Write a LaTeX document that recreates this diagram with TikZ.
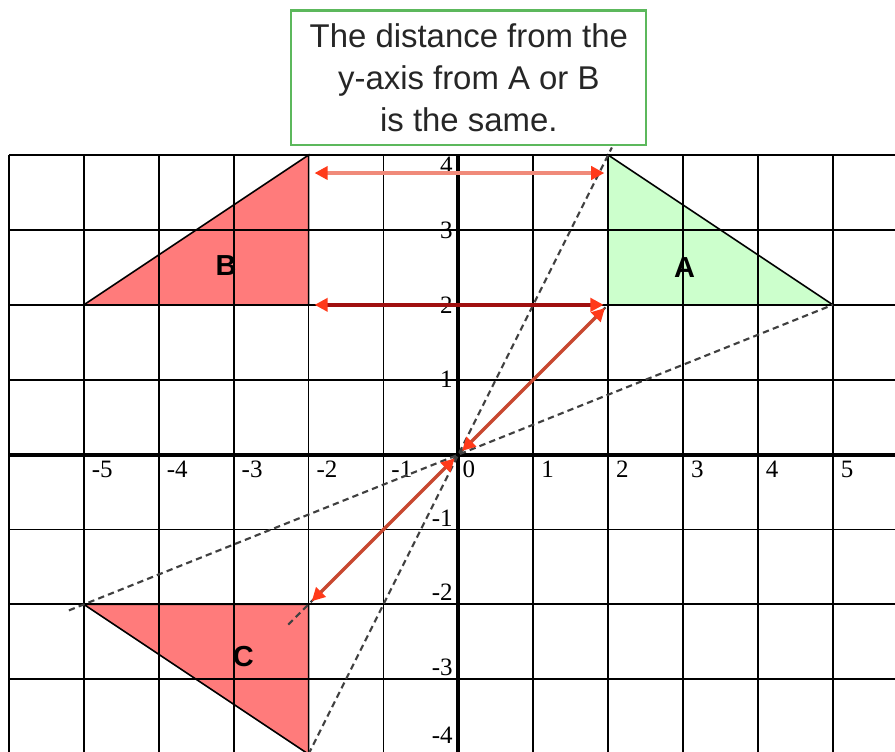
\documentclass[tikz,border=0pt]{standalone}
\usepackage{fontspec}
\setmainfont{Liberation Sans}
\newfontfamily\tickfont{Liberation Serif}
\usetikzlibrary{arrows.meta,positioning,calc}

\definecolor{shapered}{HTML}{FF7B7B}
\definecolor{shapegreen}{HTML}{CCFFCC}
\definecolor{boxgreen}{HTML}{5CB85C}
\definecolor{tipred}{HTML}{FF3A1A}
\definecolor{lightshaft}{HTML}{F08A7A}
\definecolor{darkshaft}{HTML}{A01010}
\definecolor{diagshaft}{HTML}{C84830}

\begin{document}
\begin{tikzpicture}[
  gridline/.style={black, line width=0.7pt},
  axisline/.style={black, line width=1.6pt},
  guide/.style={dash pattern=on 2.4pt off 1.6pt, black!75, line width=0.8pt},
  dist/.style={{Triangle[length=5pt,width=5pt,color=tipred]}-{Triangle[length=5pt,width=5pt,color=tipred]}, line width=1.3pt},
  tick/.style={font=\tickfont\fontsize{9.5}{10}\selectfont, inner sep=0pt},
  shapelabel/.style={font=\fontsize{11}{13}\selectfont\bfseries}
]
\useasboundingbox (-6.12,-3.96) rectangle (5.83,6.07);
% Corners of the three triangles
\coordinate (O) at (0,0);
\coordinate (A1) at (2,4);
\coordinate (A2) at (2,2);
\coordinate (A3) at (5,2);
\coordinate (B1) at (-2,4);
\coordinate (B2) at (-2,2);
\coordinate (B3) at (-5,2);
\coordinate (C1) at (-2,-2);
\coordinate (C2) at (-5,-2);
\coordinate (C3) at (-2,-4);
% Fills under the grid
\fill[shapegreen] (A1) -- (A2) -- (A3) -- cycle;
\fill[shapered] (B1) -- (B2) -- (B3) -- cycle;
\fill[shapered] (C1) -- (C2) -- (C3) -- cycle;
% Grid and axes
\foreach \x in {-6,...,5} {
  \draw[gridline] (\x,4) -- (\x,-4);
}
\foreach \y in {-4,...,4} {
  \draw[gridline] (-6,\y) -- (5.83,\y);
}
\draw[axisline] (-6,0) -- (5.83,0);
\draw[axisline] (0,4) -- (0,-4);
% Triangle outlines
\draw[line width=0.6pt] (A1) -- (A2) -- (A3) -- cycle;
\draw[line width=0.6pt] (B1) -- (B2) -- (B3) -- cycle;
\draw[line width=0.6pt] (C1) -- (C2) -- (C3) -- cycle;
% Axis numbers
\foreach \x in {-5,...,-1,1,2,...,5} {
  \node[tick, anchor=north west] (xt\x) at (\x+0.1,-0.08) {\x};
}
\node[tick, anchor=north west] (xt0) at (0.05,-0.08) {0};
\foreach \y in {1,2,3} {
  \node[tick, anchor=east] (yt\y) at (-0.07,\y) {\y};
}
\node[tick, anchor=north east] (yt4) at (-0.07,3.98) {4};
\foreach \y in {-1,-2,-3} {
  \node[tick, anchor=south east] (yt\y) at (-0.07,\y+0.04) {\y};
}
\node[tick, anchor=south east] (yt-4) at (-0.07,-3.86) {-4};
% Dashed guide lines through the origin
\coordinate (g1) at (2.05,4.1);
\coordinate (g2) at (-5.2,-2.08);
\coordinate (g3) at (-2.27,-2.27);
\draw[guide] (C3) -- (g1);
\draw[guide] (g2) -- (A3);
\draw[guide] (g3) -- (A2);
% Distance arrows
\coordinate (t1) at (-1.92,3.76);
\coordinate (t2) at (1.95,3.76);
\draw[dist, lightshaft] (t1) -- (t2);
\draw[dist, darkshaft, shorten <=0.08cm, shorten >=0.06cm] (B2) -- (A2);
\draw[dist, diagshaft, shorten <=0.07cm, shorten >=0.06cm] (O) -- (A2);
\draw[dist, diagshaft, shorten <=0.07cm, shorten >=0.06cm] (O) -- (C1);
% Triangle names
\node[shapelabel] (labA) at (3.02,2.5) {A};
\node[shapelabel] (labB) at (-3.1,2.52) {B};
\node[shapelabel] (labC) at (-2.87,-2.7) {C};
% Note box
\node[draw=boxgreen, line width=0.8pt, fill=white, minimum width=4.74cm, minimum height=1.8cm,
  align=center, text=black!85, font=\fontsize{12.5}{16}\selectfont] (note) at (0.14,5.03)
  {The distance from the\\y-axis from A or B\\is the same.};
\end{tikzpicture}
\end{document}
